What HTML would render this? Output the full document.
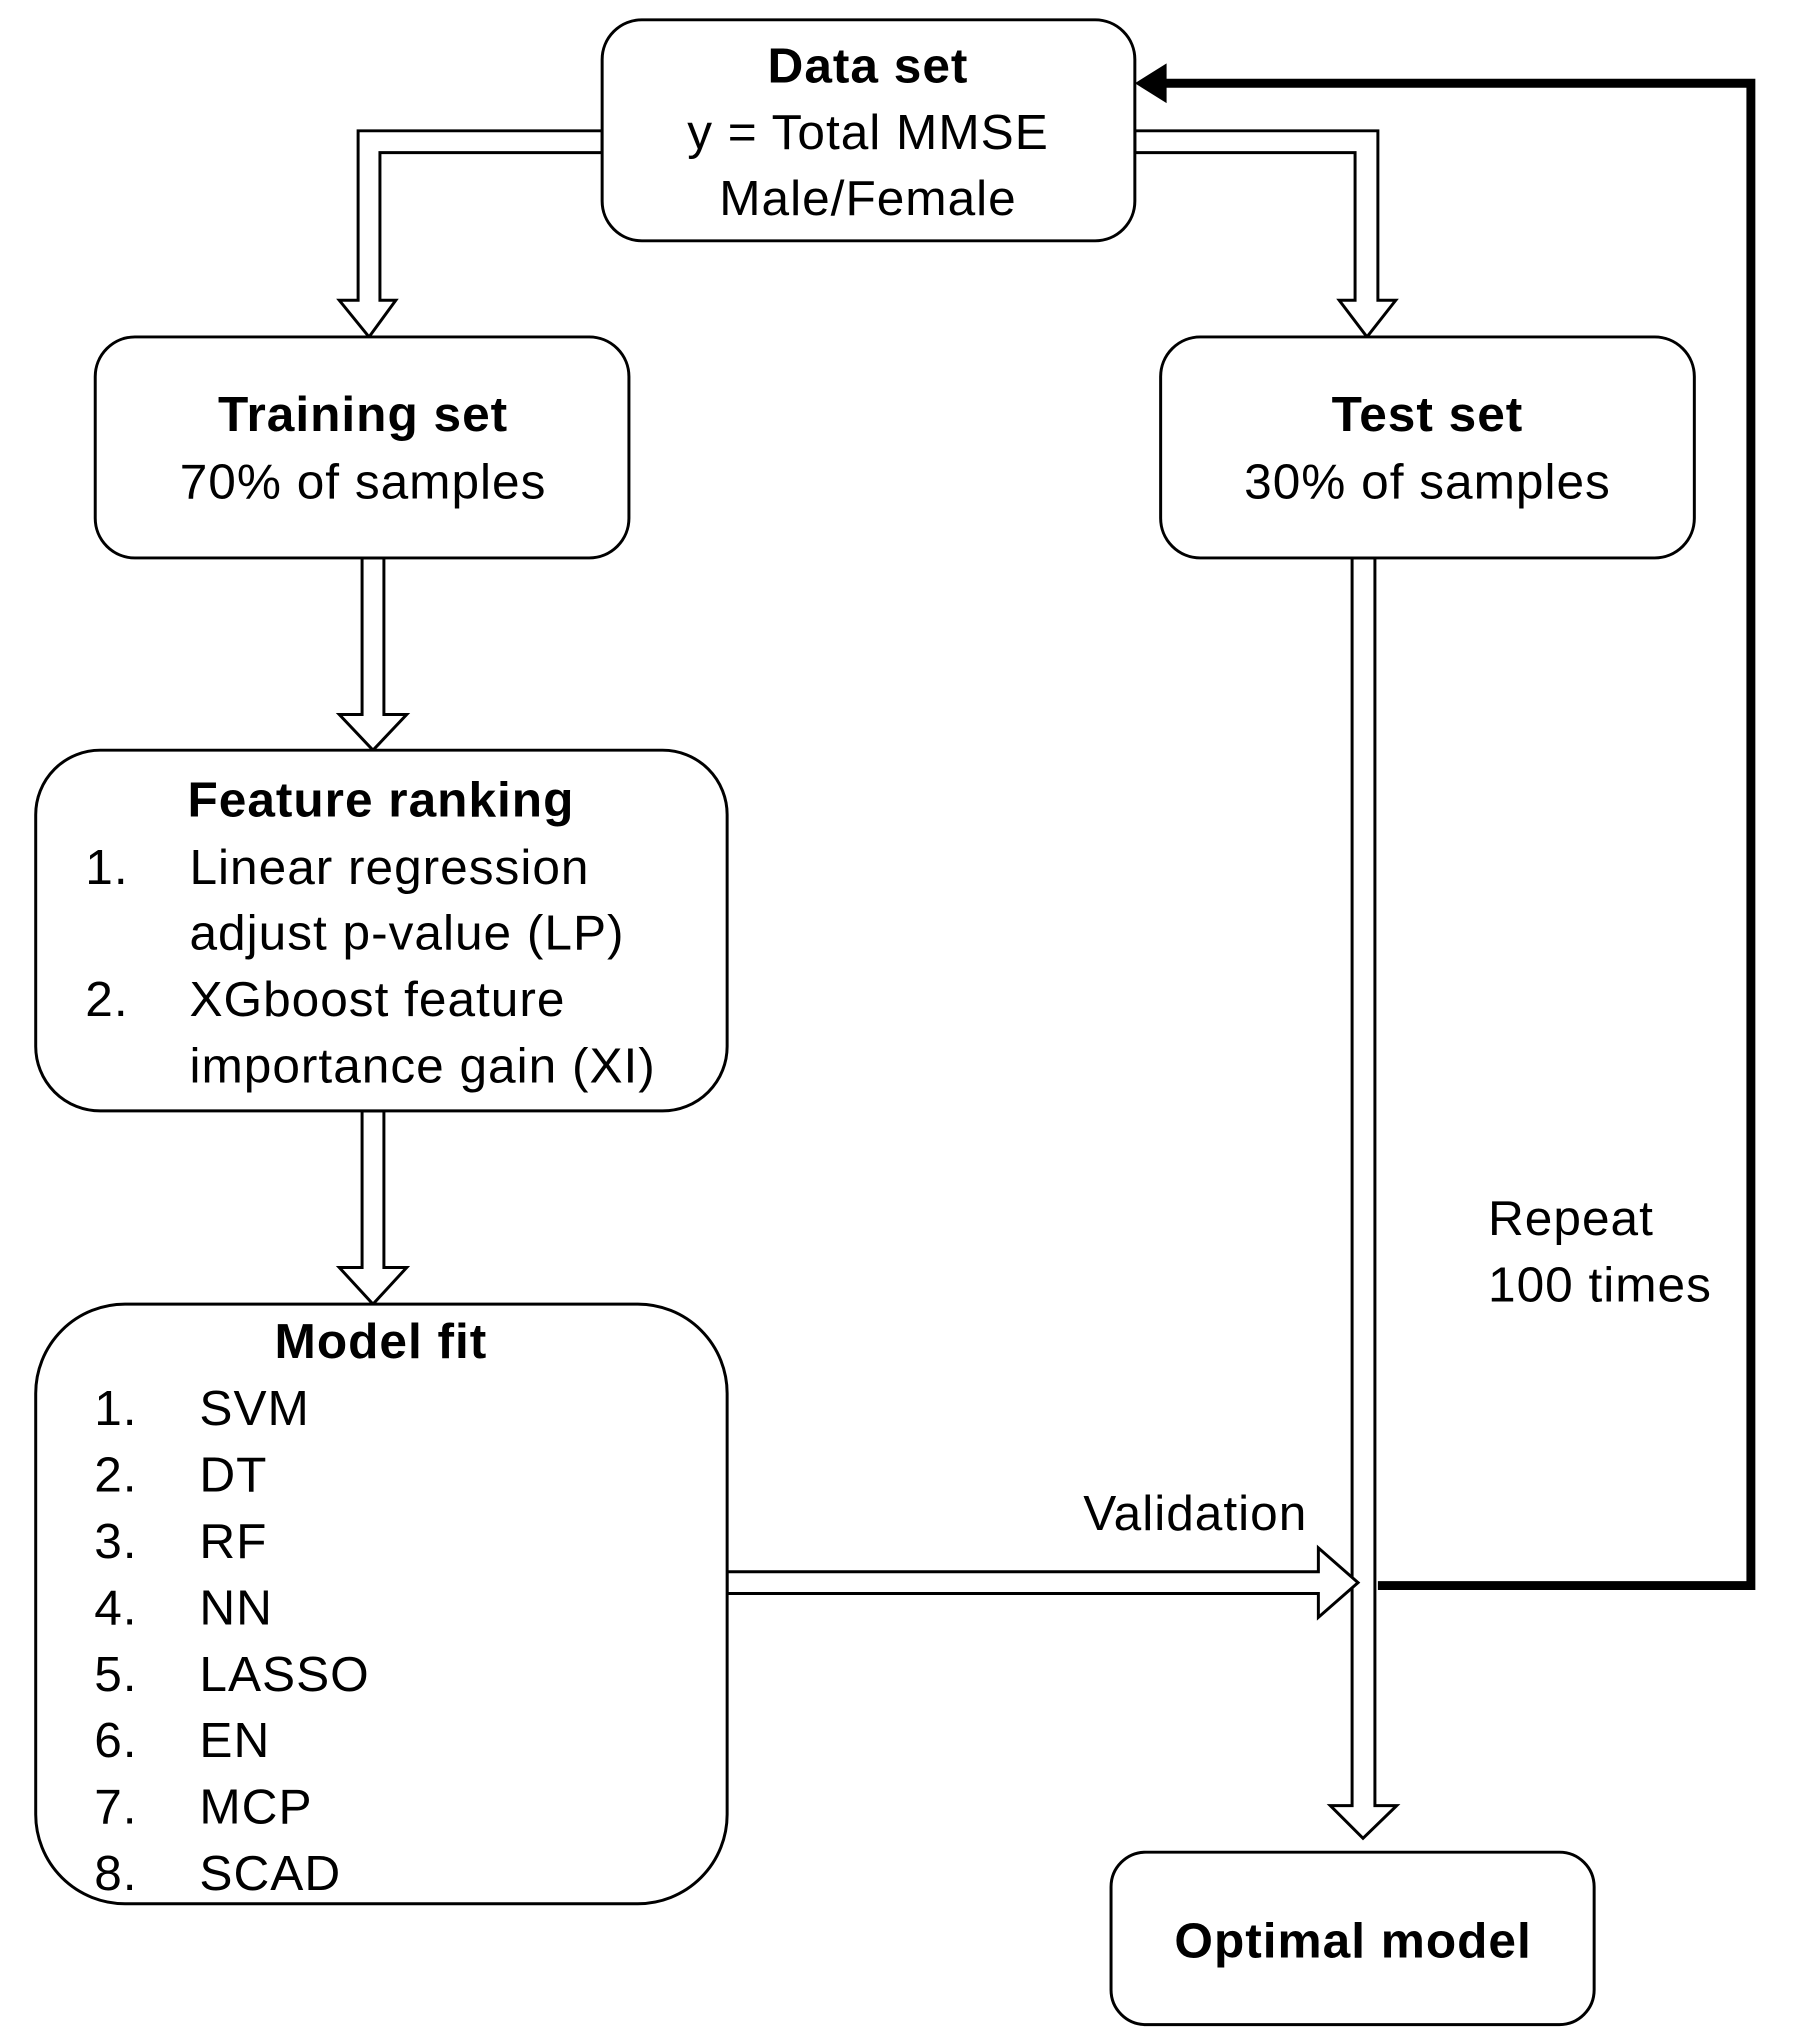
<!DOCTYPE html>
<html><head><style>html,body{margin:0;padding:0;background:#fff}svg{display:block}</style></head><body>
<svg width="1819" height="2044" viewBox="0 0 1819 2044" xmlns="http://www.w3.org/2000/svg" font-family="Liberation Sans, sans-serif">
<g transform="scale(0.992,0.991)">
<g fill="#fff" stroke="#000" stroke-width="3" stroke-linejoin="miter">
<polygon points="607,132 361,132 361,303 342,303 372,340 399,303 383,303 383,154 607,154"/>
<polygon points="1144,132 1389,132 1389,303 1407,303 1378,340 1350,303 1366,303 1366,154 1144,154"/>
<polygon points="365,563 365,721 342,721 376,757 410,721 387,721 387,563"/>
<polygon points="365,1121 365,1279 342,1279 376,1316 410,1279 387,1279 387,1121"/>
<polygon points="1363,563 1363,1822 1341,1822 1374,1855 1408,1822 1386,1822 1386,563"/>
<polygon points="733,1586 1329,1586 1329,1562 1369,1597 1329,1632 1329,1608 733,1608"/>
</g>
<polyline points="1389,1600 1765,1600 1765,84 1170,84" fill="none" stroke="#000" stroke-width="9"/>
<polygon points="1144,84 1176,64 1176,104" fill="#000"/>
<g fill="#fff" stroke="#000" stroke-width="3">
<rect x="607" y="20" width="537" height="223" rx="40"/>
<rect x="96" y="340" width="538" height="223" rx="40"/>
<rect x="1170" y="340" width="538" height="223" rx="40"/>
<rect x="36" y="757" width="697" height="364" rx="65"/>
<rect x="36" y="1316" width="697" height="605" rx="90"/>
<rect x="1120" y="1869" width="487" height="174" rx="35"/>
</g>
<g font-size="50" fill="#000" dominant-baseline="central" letter-spacing="1">
<g text-anchor="middle">
<text x="875" y="66" font-weight="bold">Data set</text>
<text x="875" y="133">y = Total MMSE</text>
<text x="875" y="200">Male/Female</text>
<text x="366" y="418" font-weight="bold">Training set</text>
<text x="366" y="486">70% of samples</text>
<text x="1439" y="418" font-weight="bold">Test set</text>
<text x="1439" y="486">30% of samples</text>
<text x="384" y="807" font-weight="bold">Feature ranking</text>
<text x="384" y="1353" font-weight="bold">Model fit</text>
<text x="1364" y="1958" font-weight="bold">Optimal model</text>
</g>
<text x="86" y="875">1.</text><text x="191" y="875">Linear regression</text>
<text x="191" y="941">adjust p-value (LP)</text>
<text x="86" y="1008">2.</text><text x="191" y="1008">XGboost feature</text>
<text x="191" y="1075">importance gain (XI)</text>
<text x="95" y="1421">1.</text><text x="201" y="1421">SVM</text>
<text x="95" y="1488">2.</text><text x="201" y="1488">DT</text>
<text x="95" y="1555">3.</text><text x="201" y="1555">RF</text>
<text x="95" y="1622">4.</text><text x="201" y="1622">NN</text>
<text x="95" y="1689">5.</text><text x="201" y="1689">LASSO</text>
<text x="95" y="1756">6.</text><text x="201" y="1756">EN</text>
<text x="95" y="1823">7.</text><text x="201" y="1823">MCP</text>
<text x="95" y="1890">8.</text><text x="201" y="1890">SCAD</text>
<text x="1092" y="1527">Validation</text>
<text x="1500" y="1229">Repeat</text>
<text x="1500" y="1296">100 times</text>
</g>
</g>
</svg>
</body></html>
